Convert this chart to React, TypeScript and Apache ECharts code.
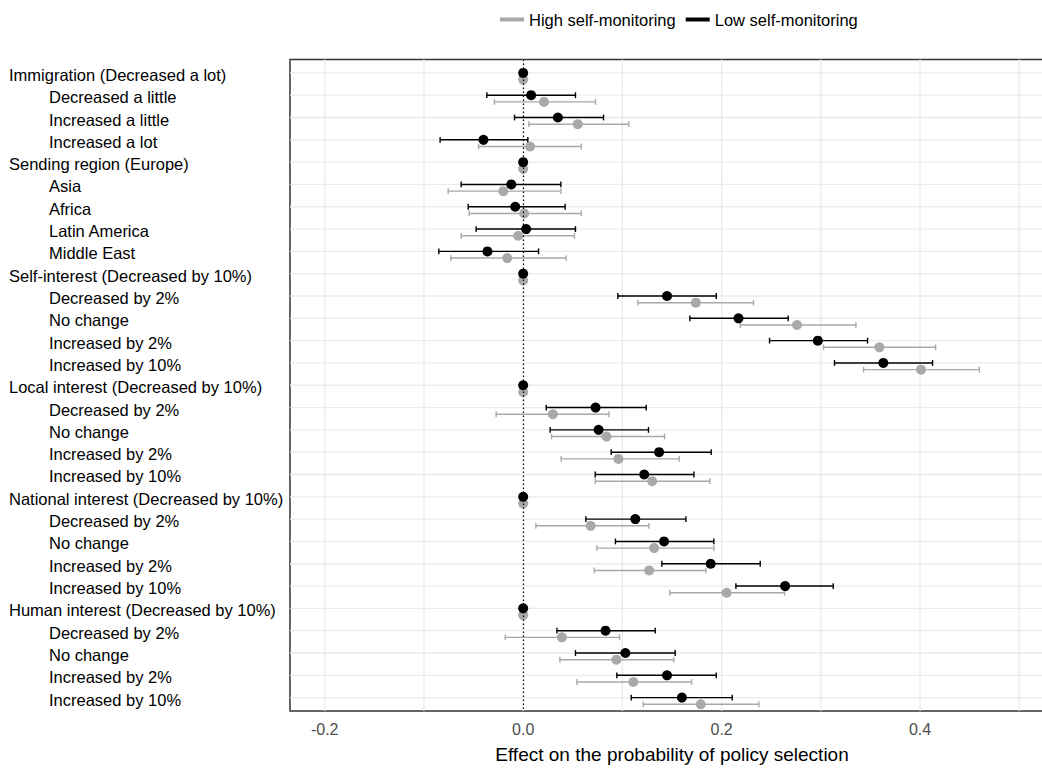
import React, { useEffect, useRef } from "react";
import * as echarts from "echarts";

// Row labels, top to bottom; group headers name the reference level.
const rowLabels: string[] = [
  "Immigration (Decreased a lot)",
  "Decreased a little",
  "Increased a little",
  "Increased a lot",
  "Sending region (Europe)",
  "Asia",
  "Africa",
  "Latin America",
  "Middle East",
  "Self-interest (Decreased by 10%)",
  "Decreased by 2%",
  "No change",
  "Increased by 2%",
  "Increased by 10%",
  "Local interest (Decreased by 10%)",
  "Decreased by 2%",
  "No change",
  "Increased by 2%",
  "Increased by 10%",
  "National interest (Decreased by 10%)",
  "Decreased by 2%",
  "No change",
  "Increased by 2%",
  "Increased by 10%",
  "Human interest (Decreased by 10%)",
  "Decreased by 2%",
  "No change",
  "Increased by 2%",
  "Increased by 10%",
];

// Rows that are attribute headers (reference categories, no interval).
const headerRows: number[] = [0, 4, 9, 14, 19, 24];

// Low self-monitoring: estimate and 95% interval.
const lowEst: number[] = [
  0, 0.008, 0.035, -0.04, 0, -0.012, -0.008, 0.003, -0.036, 0, 0.145, 0.217, 0.297, 0.363,
  0, 0.073, 0.076, 0.137, 0.122, 0, 0.113, 0.142, 0.189, 0.264, 0, 0.083, 0.103, 0.145, 0.16,
];
const lowLo: (number | null)[] = [
  null, -0.0366, -0.0087, -0.0837, null, -0.0625, -0.0554, -0.0474, -0.085, null, 0.0954, 0.168, 0.2483, 0.3138,
  null, 0.0232, 0.0272, 0.0887, 0.0726, null, 0.0632, 0.093, 0.1398, 0.2144, null, 0.034, 0.0527, 0.0944, 0.1089,
];
const lowHi: (number | null)[] = [
  null, 0.0527, 0.081, 0.0047, null, 0.038, 0.0423, 0.0527, 0.0155, null, 0.1946, 0.2671, 0.3471, 0.4126,
  null, 0.124, 0.1263, 0.1895, 0.1721, null, 0.164, 0.1922, 0.2389, 0.3125, null, 0.1331, 0.1532, 0.1946, 0.2107,
];

// High self-monitoring: estimate and 95% interval.
const highEst: number[] = [
  0, 0.021, 0.055, 0.007, 0, -0.02, 0.001, -0.005, -0.016, 0, 0.174, 0.276, 0.359, 0.401,
  0, 0.03, 0.084, 0.096, 0.13, 0, 0.068, 0.132, 0.127, 0.205, 0, 0.039, 0.094, 0.111, 0.179,
];
const highLo: (number | null)[] = [
  null, -0.029, 0.0057, -0.045, null, -0.0756, -0.0544, -0.0625, -0.0729, null, 0.1156, 0.2188, 0.3028, 0.3431,
  null, -0.0272, 0.0286, 0.0383, 0.0726, null, 0.0128, 0.0743, 0.0716, 0.1479, null, -0.0181, 0.037, 0.0541, 0.121,
];
const highHi: (number | null)[] = [
  null, 0.0729, 0.1065, 0.0585, null, 0.038, 0.0585, 0.0517, 0.0433, null, 0.2322, 0.3354, 0.4157, 0.4597,
  null, 0.0864, 0.1425, 0.1573, 0.1882, null, 0.1267, 0.1922, 0.1841, 0.2634, null, 0.0971, 0.1519, 0.1697, 0.2376,
];

// Axis ticks and gridlines.
const xTickLabels: number[] = [-0.2, 0, 0.2, 0.4];
const xGridValues: number[] = [-0.2, -0.1, 0, 0.1, 0.2, 0.3, 0.4, 0.5];

const HIGH_NAME = "High self-monitoring";
const LOW_NAME = "Low self-monitoring";
const HIGH_COLOR = "#A9A9A9";
const LOW_COLOR = "#000000";
const FONT = "'Liberation Sans', Arial, sans-serif";

// Vertical offset (in row units) of each group within a row.
const LOW_OFFSET = 0;
const HIGH_OFFSET = 0.3;
const CAP = 0.13;

function intervals(lo: (number | null)[], hi: (number | null)[]) {
  const out: number[][] = [];
  lo.forEach((l, i) => {
    const h = hi[i];
    if (l !== null && h !== null) out.push([i, l, h]);
  });
  return out;
}

function errorBarRenderer(offset: number, color: string, width: number) {
  return (params: any, api: any) => {
    const y = api.value(0) + offset;
    const a = api.coord([api.value(1), y]);
    const b = api.coord([api.value(2), y]);
    const aTop = api.coord([api.value(1), y - CAP]);
    const aBot = api.coord([api.value(1), y + CAP]);
    const bTop = api.coord([api.value(2), y - CAP]);
    const bBot = api.coord([api.value(2), y + CAP]);
    const style = { stroke: color, lineWidth: width };
    return {
      type: "group",
      children: [
        { type: "line", shape: { x1: a[0], y1: a[1], x2: b[0], y2: b[1] }, style },
        { type: "line", shape: { x1: aTop[0], y1: aTop[1], x2: aBot[0], y2: aBot[1] }, style },
        { type: "line", shape: { x1: bTop[0], y1: bTop[1], x2: bBot[0], y2: bBot[1] }, style },
      ],
    };
  };
}

export default function App() {
  const ref = useRef<HTMLDivElement>(null);

  useEffect(() => {
    if (!ref.current) return;
    const chart = echarts.init(ref.current, undefined, { renderer: "svg" });

    const rowIdx = rowLabels.map((_, i) => i);
    const gridColor = "#EBEBEB";

    chart.setOption({
      animation: false,
      backgroundColor: "#ffffff",
      textStyle: { fontFamily: FONT },
      legend: {
        top: 6,
        left: 495,
        icon: "rect",
        itemWidth: 24,
        itemHeight: 4,
        itemGap: 10,
        selectedMode: false,
        textStyle: { fontFamily: FONT, fontSize: 16.5, color: "#000" },
        data: [
          { name: HIGH_NAME, itemStyle: { color: HIGH_COLOR } },
          { name: LOW_NAME, itemStyle: { color: LOW_COLOR } },
        ],
      },
      grid: {
        left: 290,
        top: 59.5,
        right: 0,
        bottom: 54.5,
        show: true,
        borderColor: "#333333",
        borderWidth: 1.5,
        backgroundColor: "transparent",
      },
      xAxis: {
        type: "value",
        min: -0.235,
        max: 0.535,
        axisLine: { show: false },
        axisTick: { show: false },
        splitLine: { show: false },
        axisLabel: {
          customValues: xTickLabels,
          formatter: (v: number) => v.toFixed(1),
          color: "#4D4D4D",
          fontSize: 16,
          fontFamily: FONT,
          margin: 10,
        },
        name: "Effect on the probability of policy selection",
        nameLocation: "middle",
        nameGap: 34,
        nameTextStyle: { fontSize: 19, color: "#000", fontFamily: FONT },
      },
      yAxis: {
        type: "value",
        inverse: true,
        min: -0.6,
        max: rowLabels.length - 1 + 0.6,
        axisLine: { show: false },
        axisTick: { show: false },
        splitLine: { show: false },
        axisLabel: {
          customValues: rowIdx,
          align: "left",
          margin: 281,
          fontFamily: FONT,
          fontSize: 16.5,
          color: "#000",
          formatter: (v: number) => {
            const i = Math.round(v);
            const label = rowLabels[i] ?? "";
            return headerRows.includes(i) ? `{h|${label}}` : `{s|${label}}`;
          },
          rich: {
            h: { fontFamily: FONT, fontSize: 16.5, color: "#000", padding: [4, 0, 0, 0] },
            s: { fontFamily: FONT, fontSize: 16.5, color: "#000", padding: [4, 0, 0, 40] },
          },
        },
      },
      series: [
        {
          // vertical gridlines
          type: "custom",
          silent: true,
          z: 0,
          data: xGridValues.map((v) => [v]),
          encode: { x: 0 },
          renderItem: (params: any, api: any) => {
            const cs = params.coordSys;
            const p = api.coord([api.value(0), 0]);
            return {
              type: "line",
              shape: { x1: p[0], y1: cs.y, x2: p[0], y2: cs.y + cs.height },
              style: { stroke: gridColor, lineWidth: 1.3 },
            };
          },
        },
        {
          // horizontal gridlines, one per row
          type: "custom",
          silent: true,
          z: 0,
          data: rowIdx.map((i) => [0, i]),
          encode: { x: 0, y: 1 },
          renderItem: (params: any, api: any) => {
            const cs = params.coordSys;
            const p = api.coord([0, api.value(1)]);
            return {
              type: "line",
              shape: { x1: cs.x, y1: p[1], x2: cs.x + cs.width, y2: p[1] },
              style: { stroke: gridColor, lineWidth: 1.3 },
            };
          },
        },
        {
          name: HIGH_NAME,
          type: "custom",
          z: 2,
          itemStyle: { color: HIGH_COLOR },
          data: intervals(highLo, highHi),
          encode: { x: [1, 2], y: 0 },
          renderItem: errorBarRenderer(HIGH_OFFSET, HIGH_COLOR, 1.4),
          markLine: {
            silent: true,
            symbol: "none",
            label: { show: false },
            lineStyle: { color: "#000", type: [1.5, 2.5], width: 1.2 },
            data: [{ xAxis: 0 }],
          },
        },
        {
          name: LOW_NAME,
          type: "custom",
          z: 2,
          itemStyle: { color: LOW_COLOR },
          data: intervals(lowLo, lowHi),
          encode: { x: [1, 2], y: 0 },
          renderItem: errorBarRenderer(LOW_OFFSET, LOW_COLOR, 1.4),
        },
        {
          name: HIGH_NAME,
          type: "scatter",
          z: 3,
          symbol: "circle",
          symbolSize: 10,
          itemStyle: { color: HIGH_COLOR, opacity: 1 },
          data: highEst.map((v, i) => [v, i + HIGH_OFFSET]),
        },
        {
          name: LOW_NAME,
          type: "scatter",
          z: 4,
          symbol: "circle",
          symbolSize: 10,
          itemStyle: { color: LOW_COLOR, opacity: 1 },
          data: lowEst.map((v, i) => [v, i + LOW_OFFSET]),
        },
      ],
    });

    return () => chart.dispose();
  }, []);

  // The chart is slightly wider than the visible area so the panel's right
  // edge falls just outside the frame.
  return (
    <div
      style={{ position: "absolute", left: 0, top: 0, width: 1042, height: 769, overflow: "hidden" }}
    >
      <div ref={ref} style={{ width: 1054, height: 769 }} />
    </div>
  );
}
